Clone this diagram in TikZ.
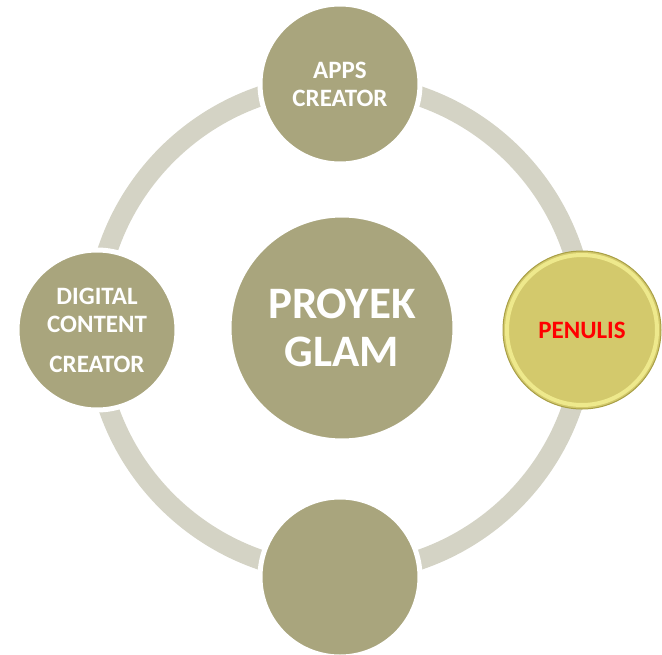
\documentclass[tikz,border=0pt]{standalone}
\usepackage{fontspec}
\setmainfont{Carlito}
\usepackage{xcolor}
\definecolor{ringgray}{HTML}{D4D3C5}
\definecolor{khaki}{HTML}{A9A57D}
\definecolor{penfill}{HTML}{D3C96C}
\definecolor{penrim}{HTML}{EEE98C}
\definecolor{penedge}{HTML}{A89F45}
\definecolor{pentext}{HTML}{FF0000}

\tikzset{
  hub/.style={circle, fill=khaki, draw=white, line width=5pt, inner sep=0pt,
    text=white, font=\bfseries\fontsize{25}{28}\selectfont, align=center},
  bigtext/.style={font=\bfseries\fontsize{45}{48}\selectfont},
  ringline/.style={draw=ringgray, line width=20pt}
}

\begin{document}
\begin{tikzpicture}[x=1pt,y=-1pt]
  \useasboundingbox (0,0) rectangle (662,654);
  \fill[white] (0,0) rectangle (662,654);
  % ring round the centre
  \coordinate (c) at (340,328);
  \draw[ringline] (c) circle (245);

  \node (glam) [hub, bigtext, minimum size=226pt] at (342,328) {PROYEK\\GLAM};
  \node (apps) [hub, minimum size=160pt] at (340,84) {APPS\\CREATOR};
  \node (dcc) [hub, minimum size=160pt] at (97,330) {DIGITAL\\CONTENT\\[12pt]CREATOR};
  \node (bot) [hub, minimum size=160pt] at (340,577) {};

  % highlighted one
  \node (pen) [circle, minimum size=158pt, inner sep=0pt, fill=penfill,
    draw=penedge, line width=1pt, text=pentext,
    font=\bfseries\fontsize{25}{28}\selectfont] at (582,330) {PENULIS};
  \draw[penrim, line width=4pt] (pen.center) circle (75);
\end{tikzpicture}
\end{document}
